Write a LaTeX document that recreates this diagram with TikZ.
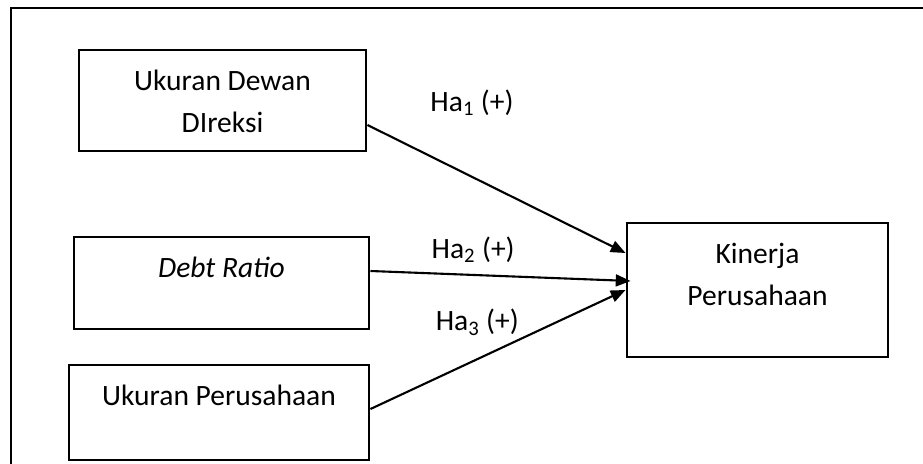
\documentclass[tikz,border=0pt]{standalone}
\usepackage{fontspec}
\setmainfont{Carlito}
\usepackage{tikz}
\usepackage{tkz-euclide}
\usetikzlibrary{calc,positioning}
\usetikzlibrary{arrows.meta}

\begin{document}
\begin{tikzpicture}[scale=1,
            kotak/.style={draw,line width=2.1pt,inner sep=0pt},
            isi/.style={anchor=north,inner sep=0pt,align=center,yshift=-15pt,font=\fontsize{21}{29.9}\selectfont},
            panah/.style={line width=1.5pt,-{Triangle[length=10.5pt,width=8.5pt]}},
            hip/.style={inner sep=0pt,font=\fontsize{21}{24}\selectfont}]
            \useasboundingbox (0,0) rectangle (23.075,11.575);
            \tkzDefPoint(5.5625,9.0625){D}
            \tkzDefPoint(5.5375,4.5){R}
            \tkzDefPoint(5.475,1.2625){P}
            \tkzDefPoint(18.9375,4.325){K}
            % bingkai luar
            \draw[line width=2.1pt] (0.275,-0.2) -- (0.275,11.375) -- (23.2,11.375);
            \node[kotak,minimum width=7.175cm,minimum height=2.525cm,label={[isi]north:Ukuran Dewan\\DIreksi}] (dir) at (D) {};
            \node[kotak,minimum width=7.375cm,minimum height=2.3cm,label={[isi]north:\textit{Debt Ratio}}] (dr) at (R) {};
            \node[kotak,minimum width=7.5cm,minimum height=2.375cm,label={[isi]north:Ukuran Perusahaan}] (up) at (P) {};
            \node[kotak,minimum width=6.525cm,minimum height=3.35cm,label={[isi]north:Kinerja\\Perusahaan}] (kin) at (K) {};
            %\tkzDrawPoints(D,R,P,K)
            \draw[panah] ([yshift=-0.6125cm]dir.east) -- node[hip,pos=0.405,yshift=1.85cm] (ha1) {Ha\textsubscript{1} (+)} ([yshift=0.925cm]kin.west);
            \draw[panah] ([yshift=0.3cm]dr.east) -- node[hip,pos=0.395,yshift=0.625cm] (ha2) {Ha\textsubscript{2} (+)} ([xshift=0.125cm,yshift=0.225cm]kin.west);
            \draw[panah] ([yshift=0.0875cm]up.east) -- node[hip,pos=0.419,yshift=0.925cm] (ha3) {Ha\textsubscript{3} (+)} (kin.west);
            \end{tikzpicture}
\end{document}
